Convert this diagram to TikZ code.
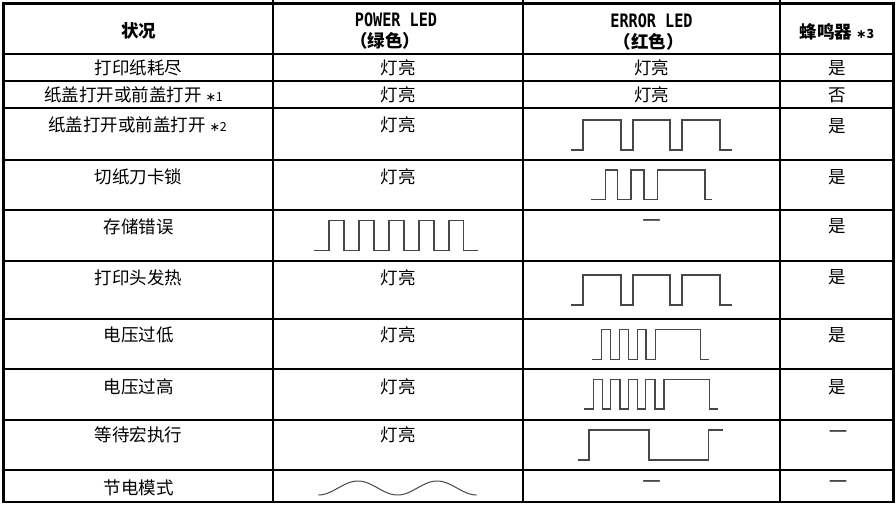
\documentclass[tikz,border=0pt]{standalone}
\usepackage{fontspec}
\setmainfont{Noto Sans CJK SC}
\newfontfamily\latinmono[FakeStretch=0.82]{DejaVu Sans Mono}
\newfontfamily\dashfont{DejaVu Sans}
\newcommand\fnmark[1]{\ {\fontsize{12.5}{12}\selectfont{\dashfont ∗}#1}}
\newcommand\emptymark{{\dashfont —}}
\tikzset{
  cell/.style={inner sep=0pt, font=\fontsize{17.5}{20}\selectfont},
  head/.style={inner sep=0pt, font=\fontsize{17.5}{20}\selectfont\bfseries},
  monohead/.style={inner sep=0pt, font=\fontsize{18.5}{20}\selectfont\latinmono\bfseries},
  dashcell/.style={inner sep=0pt, font=\fontsize{18.5}{20}\selectfont},
  gridline/.style={line width=2pt, black},
  frame/.style={line width=2.6pt, black},
  wave/.style={line width=1.1pt, black!72, line join=miter},
}
\begin{document}
\begin{tikzpicture}[x=1pt,y=-1pt]
\useasboundingbox (0,0) rectangle (896,504);
% grid
\draw[frame] (3.5,3.3) rectangle (893.5,502);
\foreach \yy in {54,81,108,160,209.5,261,319,369.3,419.5,470}
  \draw[gridline] (3.5,\yy) -- (893.5,\yy);
\foreach \xx in {273.3,522.7,780}
  \draw[gridline] (\xx,0) -- (\xx,502);
% header
\node[head] (h1) at (138.5,31) {状况};
\node[monohead] (h2a) at (396,20) {POWER LED};
\node[head] (h2b) at (385,41) {（绿色）};
\node[monohead] (h3a) at (651.5,21) {ERROR LED};
\node[head] (h3b) at (648.5,42) {（红色）};
\node[head] (h4) at (837,32) {蜂鸣器\fnmark{3}};
% row 1
\node[cell] (r1a) at (138.5,68) {打印纸耗尽};
\node[cell] (r1b) at (398,68) {灯亮};
\node[cell] (r1c) at (651.5,68) {灯亮};
\node[cell] (r1d) at (837,68) {是};
% row 2
\node[cell] (r2a) at (133.5,95) {纸盖打开或前盖打开\fnmark{1}};
\node[cell] (r2b) at (398,95) {灯亮};
\node[cell] (r2c) at (651.5,95) {灯亮};
\node[cell] (r2d) at (837,95) {否};
% row 3
\node[cell] (r3a) at (137.5,125) {纸盖打开或前盖打开\fnmark{2}};
\node[cell] (r3b) at (398,125) {灯亮};
\draw[wave] (571,150) -- (583,150) -- (583,120) -- (621,120) -- (621,150) -- (633,150) -- (633,120) -- (670,120) -- (670,150) -- (682,150) -- (682,120) -- (720,120) -- (720,150) -- (732,150);
\node[cell] (r3d) at (837,126) {是};
% row 4
\node[cell] (r4a) at (138.5,177) {切纸刀卡锁};
\node[cell] (r4b) at (398,177) {灯亮};
\draw[wave] (591,199.5) -- (605.7,199.5) -- (605.7,170) -- (617.7,170) -- (617.7,199.5) -- (631,199.5) -- (631,170) -- (644,170) -- (644,199.5) -- (657.3,199.5) -- (657.3,170) -- (705,170) -- (705,199.5) -- (711.7,199.5);
\node[cell] (r4d) at (837,177) {是};
% row 5
\node[cell] (r5a) at (138.5,227) {存储错误};
\draw[wave] (314.3,250.7) -- (329,250.7) -- (329,220.7) -- (344,220.7) -- (344,250.7) -- (359,250.7) -- (359,220.7) -- (374,220.7) -- (374,250.7) -- (389,250.7) -- (389,220.7) -- (404,220.7) -- (404,250.7) -- (419,250.7) -- (419,220.7) -- (434,220.7) -- (434,250.7) -- (449,250.7) -- (449,220.7) -- (463.5,220.7) -- (463.5,250.7) -- (478.3,250.7);
\node[dashcell] (r5c) at (651.7,223) {\emptymark};
\node[cell] (r5d) at (837,226) {是};
% row 6
\node[cell] (r6a) at (138.5,278) {打印头发热};
\node[cell] (r6b) at (398,278) {灯亮};
\draw[wave] (571,305) -- (583,305) -- (583,275) -- (621,275) -- (621,305) -- (633,305) -- (633,275) -- (670,275) -- (670,305) -- (682,305) -- (682,275) -- (720,275) -- (720,305) -- (732,305);
\node[cell] (r6d) at (837,277) {是};
% row 7
\node[cell] (r7a) at (138.5,335) {电压过低};
\node[cell] (r7b) at (398,335) {灯亮};
\draw[wave] (592.3,359.3) -- (601.7,359.3) -- (601.7,329.3) -- (610.7,329.3) -- (610.7,359.3) -- (619.3,359.3) -- (619.3,329.3) -- (628.3,329.3) -- (628.3,359.3) -- (637.3,359.3) -- (637.3,329.3) -- (646,329.3) -- (646,359.3) -- (655.7,359.3) -- (655.7,329.3) -- (700.7,329.3) -- (700.7,359.3) -- (709.3,359.3);
\node[cell] (r7d) at (837,335) {是};
% row 8
\node[cell] (r8a) at (138.5,387) {电压过高};
\node[cell] (r8b) at (398,387) {灯亮};
\draw[wave] (584,409) -- (593.3,409) -- (593.3,379.3) -- (602.3,379.3) -- (602.3,409) -- (610.7,409) -- (610.7,379.3) -- (620,379.3) -- (620,409) -- (628.3,409) -- (628.3,379.3) -- (637.3,379.3) -- (637.3,409) -- (645.7,409) -- (645.7,379.3) -- (655,379.3) -- (655,409) -- (664,409) -- (664,379.3) -- (709.3,379.3) -- (709.3,409) -- (718.3,409);
\node[cell] (r8d) at (837,387) {是};
% row 9
\node[cell] (r9a) at (138.5,435) {等待宏执行};
\node[cell] (r9b) at (398,435) {灯亮};
\draw[wave] (578.3,460) -- (589,460) -- (589,430) -- (649,430) -- (649,460) -- (708.3,460) -- (708.3,430) -- (723.3,430);
\node[dashcell] (r9d) at (838,434) {\emptymark};
% row 10
\node[cell] (r10a) at (138.5,488) {节电模式};
\draw[wave, line width=1pt] plot[domain=318.3:476.7, samples=90, smooth] (\x, {488+7*cos(4.545*(\x-318.3))});
\node[dashcell] (r10c) at (651.7,484) {\emptymark};
\node[dashcell] (r10d) at (838,484) {\emptymark};
\end{tikzpicture}
\end{document}
